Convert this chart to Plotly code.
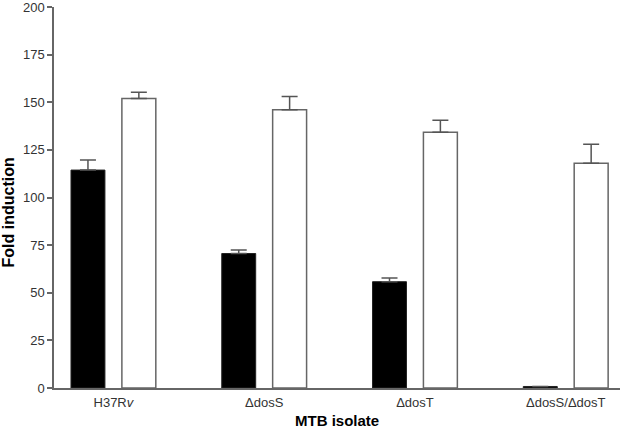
import plotly.graph_objects as go

categories = ["H37R<i>v</i>", "ΔdosS", "ΔdosT", "ΔdosS/ΔdosT"]
black_values = [114.4, 70.6, 55.8, 0.8]
black_errors = [5.3, 1.9, 1.9, 0.0]
white_values = [152.0, 146.0, 134.3, 118.0]
white_errors = [3.3, 7.0, 6.2, 10.0]
y_ticks = [0, 25, 50, 75, 100, 125, 150, 175, 200]

x = list(range(len(categories)))

fig = go.Figure()
fig.add_trace(go.Bar(
    x=x, y=black_values,
    marker=dict(color="black", line=dict(color="#222222", width=1)),
    error_y=dict(type="data", array=black_errors, symmetric=False, arrayminus=[0]*4,
                 color="#555555", thickness=1.5, width=8),
    showlegend=False, hoverinfo="skip",
))
fig.add_trace(go.Bar(
    x=x, y=white_values,
    marker=dict(color="white", line=dict(color="#666666", width=1.5)),
    error_y=dict(type="data", array=white_errors, symmetric=False, arrayminus=[0]*4,
                 color="#555555", thickness=1.5, width=8),
    showlegend=False, hoverinfo="skip",
))

fig.update_layout(
    width=625, height=432,
    margin=dict(l=54, r=5, t=7, b=44),
    paper_bgcolor="white", plot_bgcolor="white",
    barmode="group", bargap=0.325, bargroupgap=0.333,
    font=dict(family="Liberation Sans, Arial, sans-serif", color="#333333", size=13),
    annotations=[
        dict(text="<b>MTB isolate</b>", xref="paper", yref="paper", x=0.5, y=-0.084,
             xanchor="center", yanchor="middle", showarrow=False,
             font=dict(size=15, color="black")),
        dict(text="<b>Fold induction</b>", xref="paper", yref="paper", x=-0.08, y=0.46,
             xanchor="center", yanchor="middle", textangle=-90, showarrow=False,
             font=dict(size=16, color="black")),
    ],
)
fig.update_xaxes(
    range=[-0.394, 3.36], automargin=False,
    tickvals=x, ticktext=categories,
    showline=True, linecolor="#666666", linewidth=1.5,
    ticks="outside", ticklen=2, tickcolor="rgba(0,0,0,0)",
    showgrid=False, zeroline=False,
    tickfont=dict(size=13, color="#333333"),
    ticklabeloverflow="allow",
)
fig.update_yaxes(
    range=[0, 200], automargin=False,
    tickvals=y_ticks,
    showline=True, linecolor="#666666", linewidth=1.5,
    ticks="outside", ticklen=5, tickcolor="#666666", tickwidth=1.5,
    showgrid=False, zeroline=False,
    tickfont=dict(size=13, color="#333333"),
    ticklabeloverflow="allow",
)

fig.write_html("out.html", config={"displayModeBar": False},
               post_script="document.body.style.margin='0';")
